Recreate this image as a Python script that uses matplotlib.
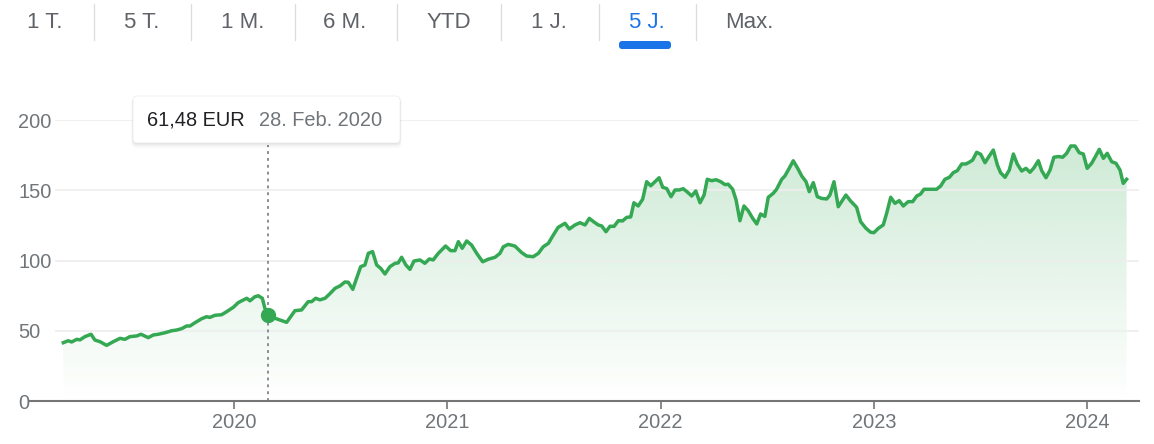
import numpy as np
import matplotlib
matplotlib.use("Agg")
import matplotlib.pyplot as plt
from matplotlib.patches import FancyBboxPatch, Polygon

plt.rcParams['font.family'] = ['Liberation Sans', 'DejaVu Sans']

# --- Data (weekly closes, EUR), dates as decimal years ---
years = [
    2019.200, 2019.223, 2019.239, 2019.263, 2019.278, 2019.301, 2019.330, 2019.348,
    2019.372, 2019.403, 2019.434, 2019.466, 2019.489, 2019.512, 2019.544, 2019.564,
    2019.598, 2019.622, 2019.645, 2019.677, 2019.708, 2019.731, 2019.755, 2019.778,
    2019.794, 2019.817, 2019.849, 2019.872, 2019.887, 2019.911, 2019.942, 2019.966,
    2019.997, 2020.020, 2020.036, 2020.060, 2020.075, 2020.098, 2020.114, 2020.133,
    2020.145, 2020.158, 2020.192, 2020.247, 2020.286, 2020.317, 2020.348, 2020.364,
    2020.383, 2020.403, 2020.427, 2020.450, 2020.474, 2020.497, 2020.520, 2020.536,
    2020.557, 2020.575, 2020.594, 2020.614, 2020.630, 2020.650, 2020.669, 2020.688,
    2020.708, 2020.731, 2020.755, 2020.770, 2020.786, 2020.806, 2020.825, 2020.844,
    2020.872, 2020.895, 2020.916, 2020.934, 2020.958, 2020.992, 2021.016, 2021.036,
    2021.052, 2021.070, 2021.091, 2021.114, 2021.138, 2021.166, 2021.192, 2021.224,
    2021.247, 2021.263, 2021.286, 2021.317, 2021.349, 2021.372, 2021.403, 2021.427,
    2021.450, 2021.474, 2021.497, 2021.520, 2021.552, 2021.572, 2021.599, 2021.622,
    2021.646, 2021.666, 2021.685, 2021.708, 2021.724, 2021.744, 2021.763, 2021.782,
    2021.802, 2021.822, 2021.841, 2021.860, 2021.875, 2021.895, 2021.916, 2021.935,
    2021.954, 2021.974, 2021.993, 2022.010, 2022.029, 2022.049, 2022.068, 2022.088,
    2022.106, 2022.125, 2022.146, 2022.165, 2022.185, 2022.204, 2022.219, 2022.240,
    2022.260, 2022.282, 2022.302, 2022.317, 2022.338, 2022.354, 2022.372, 2022.391,
    2022.411, 2022.432, 2022.451, 2022.469, 2022.489, 2022.505, 2022.528, 2022.544,
    2022.568, 2022.583, 2022.603, 2022.622, 2022.643, 2022.662, 2022.682, 2022.697,
    2022.716, 2022.735, 2022.755, 2022.779, 2022.794, 2022.813, 2022.833, 2022.854,
    2022.869, 2022.891, 2022.919, 2022.938, 2022.963, 2022.985, 2023.000, 2023.021,
    2023.044, 2023.060, 2023.079, 2023.099, 2023.119, 2023.138, 2023.161, 2023.182,
    2023.201, 2023.219, 2023.235, 2023.263, 2023.294, 2023.313, 2023.333, 2023.354,
    2023.372, 2023.391, 2023.412, 2023.432, 2023.451, 2023.463, 2023.482, 2023.501,
    2023.521, 2023.541, 2023.560, 2023.579, 2023.594, 2023.615, 2023.635, 2023.654,
    2023.672, 2023.693, 2023.713, 2023.732, 2023.751, 2023.771, 2023.787, 2023.807,
    2023.826, 2023.844, 2023.865, 2023.885, 2023.904, 2023.923, 2023.943, 2023.963,
    2023.982, 2024.000, 2024.021, 2024.037, 2024.057, 2024.076, 2024.094, 2024.115,
    2024.135, 2024.154, 2024.169, 2024.185,
]
prices = [
    41.5, 42.9, 42.0, 43.9, 43.5, 45.8, 47.5, 43.4,
    42.2, 39.6, 42.2, 44.6, 43.9, 45.8, 46.3, 47.5,
    45.1, 47.0, 47.5, 48.6, 50.0, 50.5, 51.5, 53.4,
    53.4, 55.7, 58.6, 60.0, 59.5, 61.0, 61.4, 63.6,
    66.7, 70.0, 71.3, 73.1, 71.3, 74.2, 74.9, 73.1,
    66.0, 61.48, 58.9, 56.0, 64.3, 64.8, 70.7, 70.7,
    73.1, 72.0, 73.1, 76.4, 80.2, 81.9, 84.7, 84.5,
    79.5, 87.3, 95.6, 96.8, 105.1, 106.3, 96.8, 94.4,
    90.4, 95.6, 98.0, 98.3, 102.3, 96.8, 93.7, 99.6,
    100.4, 98.0, 101.1, 100.4, 105.1, 110.3, 107.0, 107.0,
    113.4, 108.7, 113.9, 111.0, 105.1, 99.1, 100.9, 102.3,
    105.1, 109.8, 111.5, 110.3, 105.6, 103.2, 102.7, 105.1,
    109.8, 112.2, 118.1, 123.6, 126.5, 122.4, 125.3, 126.9,
    125.3, 130.0, 127.7, 125.3, 124.6, 120.5, 124.4, 124.3,
    128.3, 128.2, 130.7, 131.0, 141.1, 138.8, 143.6, 156.1,
    153.2, 156.1, 158.9, 152.1, 151.2, 145.4, 150.2, 150.2,
    151.1, 148.8, 145.9, 149.5, 141.1, 146.6, 157.8, 156.8,
    157.5, 156.1, 154.0, 154.3, 150.7, 143.1, 128.3, 138.8,
    135.4, 130.0, 126.0, 133.1, 131.4, 145.0, 147.8, 150.7,
    157.8, 160.2, 165.6, 171.0, 165.6, 160.1, 156.1, 149.0,
    155.4, 145.4, 144.2, 143.8, 146.6, 156.1, 138.3, 143.1,
    146.6, 142.3, 137.9, 127.6, 122.9, 120.1, 119.8, 122.9,
    125.3, 133.6, 145.0, 140.7, 142.6, 138.8, 141.9, 141.9,
    145.9, 147.3, 150.7, 150.7, 150.7, 153.0, 157.8, 159.2,
    162.5, 163.9, 168.7, 168.7, 170.3, 171.5, 177.0, 175.6,
    169.6, 174.4, 178.6, 168.0, 162.5, 159.2, 164.4, 175.8,
    168.7, 163.7, 165.6, 162.8, 166.1, 171.0, 163.9, 158.9,
    164.4, 173.5, 174.0, 173.5, 176.3, 181.5, 181.5, 176.7,
    175.8, 165.6, 169.2, 173.5, 179.1, 172.7, 176.3, 170.3,
    169.2, 164.4, 154.9, 157.8,
]
year_ticks = [2020, 2021, 2022, 2023, 2024]
price_ticks = [0, 50, 100, 150, 200]
tab_labels = ["1 T.", "5 T.", "1 M.", "6 M.", "YTD", "1 J.", "5 J.", "Max."]
active_tab = "5 J."
tip_year = 2020.158
tip_price = 61.48
tip_value_text = "61,48 EUR"
tip_date_text = "28. Feb. 2020"

GREEN = "#34a853"
GREY_TXT = "#70757a"
W, H = 1154, 444


def fx(x):
    return x / W


def fy(y):
    return 1 - y / H


def main():
    fig = plt.figure(figsize=(W / 100, H / 100), dpi=100)

    # main chart area (pixel box 55..1139, 120..401)
    ax = fig.add_axes([fx(55), fy(401), fx(1139) - fx(55), fy(120) - fy(401)])

    t = np.array(years)
    p = np.array(prices)

    # gradient fill under the line
    verts = [(t[0], 0)] + list(zip(t, p)) + [(t[-1], 0)]
    poly = Polygon(verts, closed=True, facecolor="none", edgecolor="none")
    ax.add_patch(poly)
    img = np.zeros((256, 1, 4))
    img[..., 0] = 52 / 255
    img[..., 1] = 168 / 255
    img[..., 2] = 83 / 255
    img[..., 3] = np.linspace(0.25, 0.0, 256)[:, None]
    im = ax.imshow(img, extent=[t[0], t[-1], 0, 190], aspect="auto",
                   origin="upper", zorder=1, interpolation="bilinear")
    im.set_clip_path(poly)

    ax.plot(t, p, color=GREEN, lw=2.5, zorder=3, solid_joinstyle="round")

    # hover marker and dotted guide
    ax.vlines(tip_year, 0, 182, colors="#80868b", lw=1.3,
              linestyles=(0, (1.6, 2.2)), zorder=2, clip_on=False)
    ax.plot(tip_year, tip_price, "o", ms=10, color=GREEN, zorder=4)

    ax.set_xlim(2019.161, 2024.243)
    ax.set_ylim(0, 200)

    # grid + axes styling
    ax.set_yticks(price_ticks)
    ax.grid(axis="y", color="#eeeeee", lw=1.2, zorder=0)
    ax.set_xticks(year_ticks)
    ax.set_xticklabels([str(y) for y in year_ticks])
    for s in ["top", "right", "left"]:
        ax.spines[s].set_visible(False)
    ax.spines["bottom"].set_color("#757575")
    ax.spines["bottom"].set_linewidth(1.5)
    ax.spines["bottom"].set_bounds(2019.161 - 25 / 213.3, 2024.243)
    ax.spines["bottom"].set_zorder(5)
    ax.tick_params(axis="x", length=5.8, width=1.2, color="#757575",
                   pad=3, labelsize=14.4, labelcolor=GREY_TXT)
    ax.tick_params(axis="y", length=0, pad=26.6, labelsize=14.4,
                   labelcolor=GREY_TXT)
    for lbl in ax.get_yticklabels():
        lbl.set_horizontalalignment("left")
    ax.patch.set_alpha(0)

    # overlay in pixel coordinates for tabs and tooltip
    ov = fig.add_axes([0, 0, 1, 1])
    ov.set_xlim(0, W)
    ov.set_ylim(H, 0)
    ov.axis("off")
    ov.patch.set_alpha(0)

    tab_x = [45, 142, 243, 345, 449, 549, 647, 749]
    seps = [94, 191, 295, 397, 501, 599, 696]
    for sx in seps:
        ov.plot([sx, sx], [4, 40], color="#dadce0", lw=0.9)
    for lab, x in zip(tab_labels, tab_x):
        col = "#1a73e8" if lab == active_tab else "#5f6368"
        ov.text(x, 23, lab, ha="center", va="center", fontsize=16, color=col)
    ov.add_patch(FancyBboxPatch((619, 41), 52, 8,
                                boxstyle="round,pad=0,rounding_size=3",
                                fc="#1a73e8", ec="none"))

    # tooltip with soft shadow
    for off, a in [(0.5, 0.05), (1.5, 0.04), (2.5, 0.025), (3.5, 0.015)]:
        ov.add_patch(FancyBboxPatch((133 - off / 2, 96 + off / 2), 267 + off, 47 + off,
                                    boxstyle="round,pad=0,rounding_size=5",
                                    fc="black", ec="none", alpha=a))
    ov.add_patch(FancyBboxPatch((133, 96), 267, 47,
                                boxstyle="round,pad=0,rounding_size=4",
                                fc="white", ec="#ececec", lw=0.5))
    ov.text(147, 120, tip_value_text, ha="left", va="center",
            fontsize=14.4, color="#202124")
    ov.text(259, 120, tip_date_text, ha="left", va="center",
            fontsize=14.4, color=GREY_TXT)

    fig.savefig("out.png", dpi=100)


if __name__ == "__main__":
    main()
